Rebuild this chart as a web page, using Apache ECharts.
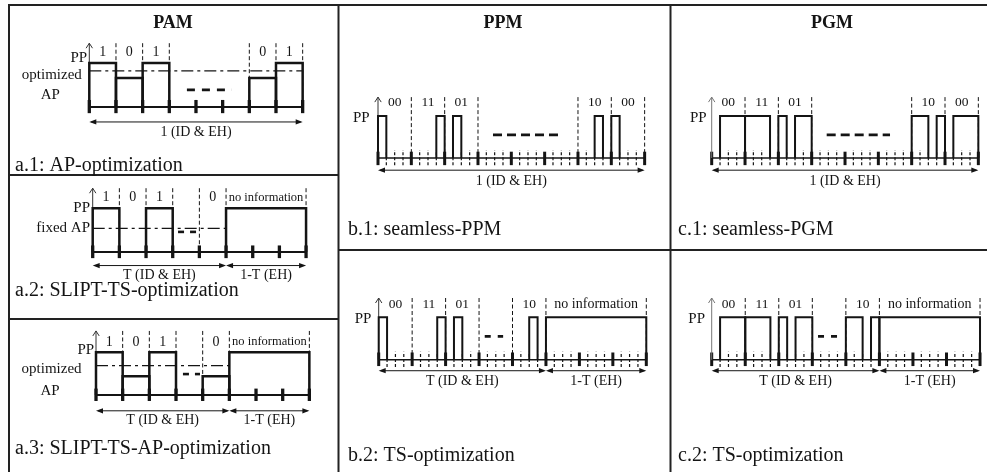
<!DOCTYPE html>
<html><head><meta charset="utf-8">
<script src="https://cdn.jsdelivr.net/npm/echarts@6/dist/echarts.min.js"></script>
<style>html,body{margin:0;padding:0;background:#fff}#c{width:987px;height:472px}</style>
</head><body><div id="c"></div>
<script>
// ================= DATA =================
const slotCount = 8;
const noInfoText = 'no information';

// ---- PAM a.1 : AP-optimization ----
const a1Bits    = ['1','0','1','','','','0','1'];
const a1Pulses  = [[0,1,1],[1,2,0.66],[2,3,1],[6,7,0.66],[7,8,1]];   // [start slot, end slot, amplitude]
const a1Ref     = [0, 8, 0.82];                                       // optimized AP level
const a1Dots    = [3.66, 5.35, 0.39];                                 // ellipsis
const a1Bounds  = [1,2,3,6,7,8];
const a1Spans   = [[0,8,'1 (ID & EH)']];
const a1NoInfo  = null;

// ---- PAM a.2 : SLIPT-TS-optimization ----
const a2Bits    = ['1','0','1','','0'];
const a2Pulses  = [[0,1,1],[2,3,1],[5,8,1]];
const a2Ref     = [0, 5, 0.54];                                       // fixed AP level
const a2Dots    = [3.2, 3.9, 0.46];
const a2Bounds  = [1,2,3,4,5,8];
const a2Spans   = [[0,5,'T (ID & EH)'],[5,8,'1-T (EH)']];
const a2NoInfo  = [5, 8];

// ---- PAM a.3 : SLIPT-TS-AP-optimization ----
const a3Bits    = ['1','0','1','','0'];
const a3Pulses  = [[0,1,1],[1,2,0.44],[2,3,1],[4,5,0.44],[5,8,1]];
const a3Ref     = [0, 5, 0.69];
const a3Dots    = [3.26, 3.9, 0.49];
const a3Bounds  = [1,2,3,4,5,8];
const a3Spans   = [[0,5,'T (ID & EH)'],[5,8,'1-T (EH)']];
const a3NoInfo  = [5, 8];

// ---- PPM b.1 : seamless-PPM ----
const b1Bits    = ['00','11','01','','','','10','00'];
const b1Pulses  = [[0,0.25,1],[1.75,2,1],[2.25,2.5,1],[6.5,6.75,1],[7,7.25,1]];
const b1Dots    = [3.45, 5.4, 0.55];
const b1Bounds  = [1,2,3,6,7,8];
const b1Spans   = [[0,8,'1 (ID & EH)']];
const b1NoInfo  = null;

// ---- PGM c.1 : seamless-PGM ----
const c1Bits    = ['00','11','01','','','','10','00'];
const c1Pulses  = [[0.25,1,1],[1,1.75,1],[2,2.25,1],[2.5,3,1],[6,6.5,1],[6.75,7,1],[7.25,8,1]];
const c1Dots    = [3.45, 5.35, 0.55];
const c1Bounds  = [1,2,3,6,7,8];
const c1Spans   = [[0,8,'1 (ID & EH)']];
const c1NoInfo  = null;

// ---- PPM b.2 : TS-optimization ----
const b2Bits    = ['00','11','01','','10'];
const b2Pulses  = [[0,0.25,1],[1.75,2,1],[2.25,2.5,1],[4.5,4.75,1],[5,8,1]];
const b2Dots    = [3.17, 3.72, 0.55];
const b2Bounds  = [1,2,3,4,5,8];
const b2Spans   = [[0,5,'T (ID & EH)'],[5,8,'1-T (EH)']];
const b2NoInfo  = [5, 8];

// ---- PGM c.2 : TS-optimization ----
const c2Bits    = ['00','11','01','','10'];
const c2Pulses  = [[0.25,1,1],[1,1.75,1],[2,2.25,1],[2.5,3,1],[4,4.5,1],[4.75,5,1],[5,8,1]];
const c2Dots    = [3.17, 3.88, 0.55];
const c2Bounds  = [1,2,3,4,5,8];
const c2Spans   = [[0,5,'T (ID & EH)'],[5,8,'1-T (EH)']];
const c2NoInfo  = [5, 8];

// ================= LAYOUT / STYLE =================
const SERIF = '"Liberation Serif","Times New Roman",serif';
const INK = '#141414';

const pamLay = {sub:false, pulseW:2.5, baseW:2, tickW:3.3, bitFont:14, infoFont:12.5, dash:[8,7]};
const ppmLay = {sub:true,  pulseW:2,   baseW:1.6, tickW:3, bitFont:13.5, infoFont:14, dash:[9,5]};

const panels = [
  Object.assign({}, pamLay, {left:89.3, w:26.67, base:107, pp:63,
    bits:a1Bits, pulses:a1Pulses, ref:a1Ref, dots:a1Dots, bounds:a1Bounds, spans:a1Spans, noInfo:a1NoInfo,
    top:1.45, lab:1.24, tUp:0.16, tDn:-0.14, arr:-0.34, arrLab:-0.57, axisCol:'#333',
    side:[[-0.08,1.11,'PP','right'],[-0.28,0.73,'optimized','right'],[-1.46,0.28,'AP','center']]}),
  Object.assign({}, pamLay, {left:92.7, w:26.67, base:252, pp:208.3, dash:[6,6],
    bits:a2Bits, pulses:a2Pulses, ref:a2Ref, dots:a2Dots, bounds:a2Bounds, spans:a2Spans, noInfo:a2NoInfo,
    top:1.46, lab:1.24, tUp:0.15, tDn:-0.14, arr:-0.31, arrLab:-0.53, axisCol:'#333',
    side:[[-0.1,1.0,'PP','right'],[-0.1,0.54,'fixed AP','right']]}),
  Object.assign({}, pamLay, {left:96, w:26.67, base:395, pp:352.3, dash:[6,6],
    bits:a3Bits, pulses:a3Pulses, ref:a3Ref, dots:a3Dots, bounds:a3Bounds, spans:a3Spans, noInfo:a3NoInfo,
    top:1.5, lab:1.24, tUp:0.15, tDn:-0.14, arr:-0.37, arrLab:-0.59, axisCol:'#333',
    side:[[-0.07,1.05,'PP','right'],[-0.54,0.6,'optimized','right'],[-1.72,0.1,'AP','center']]}),
  Object.assign({}, ppmLay, {left:378, w:33.33, base:158, pp:116,
    bits:b1Bits, pulses:b1Pulses, ref:null, dots:b1Dots, bounds:b1Bounds, spans:b1Spans, noInfo:b1NoInfo,
    top:1.45, lab:1.32, tUp:0.15, tDn:-0.17, sUp:0.19, sDn:-0.17, arr:-0.29, arrLab:-0.56, axisCol:'#333',
    side:[[-0.25,0.96,'PP','right']]}),
  Object.assign({}, ppmLay, {left:711.7, w:33.33, base:158, pp:116,
    bits:c1Bits, pulses:c1Pulses, ref:null, dots:c1Dots, bounds:c1Bounds, spans:c1Spans, noInfo:c1NoInfo,
    top:1.45, lab:1.32, tUp:0.15, tDn:-0.17, sUp:0.19, sDn:-0.17, arr:-0.29, arrLab:-0.56, axisCol:'#777',
    side:[[-0.15,0.96,'PP','right']]}),
  Object.assign({}, ppmLay, {left:378.7, w:33.45, base:359.7, pp:317.3, dash:[6,7],
    bits:b2Bits, pulses:b2Pulses, ref:null, dots:b2Dots, bounds:b2Bounds, spans:b2Spans, noInfo:b2NoInfo,
    top:1.455, lab:1.31, tUp:0.17, tDn:-0.15, sUp:0.19, sDn:-0.17, arr:-0.26, arrLab:-0.51, axisCol:'#333',
    side:[[-0.22,0.96,'PP','right']]}),
  Object.assign({}, ppmLay, {left:711.7, w:33.54, base:359.7, pp:317.3, dash:[6,7],
    bits:c2Bits, pulses:c2Pulses, ref:null, dots:c2Dots, bounds:c2Bounds, spans:c2Spans, noInfo:c2NoInfo,
    top:1.455, lab:1.31, tUp:0.17, tDn:-0.15, sUp:0.19, sDn:-0.17, arr:-0.26, arrLab:-0.51, axisCol:'#777',
    side:[[-0.2,0.96,'PP','right']]})
];

// ================= SERIES BUILDERS =================
function base(gi, z) {
  return {type:'custom', coordinateSystem:'cartesian2d', xAxisIndex:gi, yAxisIndex:gi, silent:true, z:z||2};
}
function segSeries(gi, data, style, z) {
  return Object.assign(base(gi, z), {
    data: data,
    renderItem: function (p, api) {
      const a = api.coord([api.value(0), api.value(1)]);
      const b = api.coord([api.value(2), api.value(3)]);
      return {type:'line', shape:{x1:a[0], y1:a[1], x2:b[0], y2:b[1]}, style: Object.assign({fill:null}, style)};
    }
  });
}
function pulseSeries(gi, data, width) {
  return Object.assign(base(gi, 4), {
    data: data,
    renderItem: function (p, api) {
      const x0 = api.value(0), x1 = api.value(1), h = api.value(2);
      const pts = [api.coord([x0,0]), api.coord([x0,h]), api.coord([x1,h]), api.coord([x1,0])];
      return {type:'polyline', shape:{points:pts}, style:{stroke:INK, lineWidth:width, fill:null, lineJoin:'miter'}};
    }
  });
}
function textSeries(gi, items, font) {
  return Object.assign(base(gi, 6), {
    data: items.map(function (it) { return [it[0], it[1]]; }),
    renderItem: function (p, api) {
      const it = items[p.dataIndex];
      const c = api.coord([api.value(0), api.value(1)]);
      return {type:'text', x:c[0], y:c[1],
        style:{text:it[2], font:font, fill:INK, align:it[3] || 'center', verticalAlign:'middle'}};
    }
  });
}
function spanSeries(gi, data, yv) {
  return Object.assign(base(gi, 5), {
    data: data.map(function (s) { return [s[0], s[1], yv]; }),
    renderItem: function (p, api) {
      const a = api.coord([api.value(0), api.value(2)]);
      const b = api.coord([api.value(1), api.value(2)]);
      const L = 7, H = 2.6;
      return {type:'group', children:[
        {type:'line', shape:{x1:a[0]+2, y1:a[1], x2:b[0]-2, y2:b[1]}, style:{stroke:INK, lineWidth:1}},
        {type:'polygon', shape:{points:[[a[0],a[1]],[a[0]+L,a[1]-H],[a[0]+L,a[1]+H]]}, style:{fill:INK}},
        {type:'polygon', shape:{points:[[b[0],b[1]],[b[0]-L,b[1]-H],[b[0]-L,b[1]+H]]}, style:{fill:INK}}
      ]};
    }
  });
}
function axisSeries(gi, top, col) {
  return Object.assign(base(gi, 3), {
    data: [[0, 0, top]],
    renderItem: function (p, api) {
      const a = api.coord([api.value(0), api.value(1)]);
      const b = api.coord([api.value(0), api.value(2)]);
      return {type:'group', children:[
        {type:'line', shape:{x1:a[0], y1:a[1], x2:b[0], y2:b[1]}, style:{stroke:col, lineWidth:1}},
        {type:'polyline', shape:{points:[[b[0]-3.2,b[1]+5],[b[0],b[1]],[b[0]+3.2,b[1]+5]]}, style:{stroke:col, lineWidth:1, fill:null}}
      ]};
    }
  });
}

const grids = [], xAxes = [], yAxes = [], series = [];
panels.forEach(function (P, gi) {
  grids.push({left:P.left, top:P.pp, width:P.w*slotCount, height:P.base-P.pp});
  xAxes.push({type:'value', gridIndex:gi, min:0, max:slotCount, show:false});
  yAxes.push({type:'value', gridIndex:gi, min:0, max:1, show:false});

  // dashed slot boundaries
  series.push(segSeries(gi, P.bounds.map(function (b) { return [b, P.top, b, 0]; }),
    {stroke:INK, lineWidth:1, lineDash:[4,2.5]}, 2));
  // sub-slot dashed ticks (PPM / PGM)
  if (P.sub) {
    const subs = [];
    for (let i = 0; i < slotCount; i++) for (let k = 1; k < 4; k++) subs.push([i + k/4, P.sDn, i + k/4, P.sUp]);
    series.push(segSeries(gi, subs, {stroke:INK, lineWidth:1.2, lineDash:[3,2]}, 2));
  }
  // baseline
  series.push(segSeries(gi, [[0, 0, slotCount, 0]], {stroke:INK, lineWidth:P.baseW}, 3));
  // thick slot ticks
  const ticks = [];
  for (let i = 0; i <= slotCount; i++) ticks.push([i, P.tDn, i, P.tUp]);
  series.push(segSeries(gi, ticks, {stroke:INK, lineWidth:P.tickW}, 3));
  // amplitude reference (dash-dot)
  if (P.ref) series.push(segSeries(gi, [[P.ref[0], P.ref[2], P.ref[1], P.ref[2]]],
    {stroke:INK, lineWidth:1.2, lineDash:[12,4,3,4]}, 3));
  // ellipsis
  series.push(segSeries(gi, [[P.dots[0], P.dots[2], P.dots[1], P.dots[2]]],
    {stroke:INK, lineWidth:2.6, lineDash:P.dash}, 3));
  // y axis arrow
  series.push(axisSeries(gi, P.top, P.axisCol));
  // pulses
  series.push(pulseSeries(gi, P.pulses, P.pulseW));
  // bit labels
  const bitItems = [];
  P.bits.forEach(function (b, i) { if (b) bitItems.push([i + 0.5, P.lab, b]); });
  series.push(textSeries(gi, bitItems, P.bitFont + 'px ' + SERIF));
  if (P.noInfo) series.push(textSeries(gi, [[(P.noInfo[0] + P.noInfo[1]) / 2, P.lab, noInfoText]], P.infoFont + 'px ' + SERIF));
  // span arrows
  series.push(spanSeries(gi, P.spans, P.arr));
  series.push(textSeries(gi, P.spans.map(function (s) { return [(s[0] + s[1]) / 2, P.arrLab, s[2]]; }), '14px ' + SERIF));
  // side labels
  series.push(textSeries(gi, P.side, '15px ' + SERIF));
});

// ================= FRAME & TITLES =================
function hl(x1, y, x2) { return {type:'line', shape:{x1:x1, y1:y, x2:x2, y2:y}, style:{stroke:'#222', lineWidth:2}}; }
function vl(x, y1, y2) { return {type:'line', shape:{x1:x, y1:y1, x2:x, y2:y2}, style:{stroke:'#222', lineWidth:2}}; }
function tx(x, y, t, size, weight, align) {
  return {type:'text', x:x, y:y, style:{text:t, font:(weight||'normal') + ' ' + size + 'px ' + SERIF, fill:INK,
    align:align || 'center', verticalAlign:'middle'}};
}
const graphic = [
  hl(8, 5, 987), vl(9, 4, 472), vl(338.5, 4, 472), vl(670.5, 4, 472),
  hl(8, 175, 338), hl(8, 319, 338), hl(338, 250, 987),
  tx(173, 23, 'PAM', 18, 'bold'), tx(503, 23, 'PPM', 18, 'bold'), tx(832, 23, 'PGM', 18, 'bold'),
  tx(15, 166, 'a.1: AP-optimization', 20, 'normal', 'left'),
  tx(15, 291, 'a.2: SLIPT-TS-optimization', 20, 'normal', 'left'),
  tx(15, 449, 'a.3: SLIPT-TS-AP-optimization', 20, 'normal', 'left'),
  tx(348, 230, 'b.1: seamless-PPM', 20, 'normal', 'left'),
  tx(678, 230, 'c.1: seamless-PGM', 20, 'normal', 'left'),
  tx(348, 456, 'b.2: TS-optimization', 20, 'normal', 'left'),
  tx(678, 456, 'c.2: TS-optimization', 20, 'normal', 'left')
];

const chart = echarts.init(document.getElementById('c'), null, {renderer:'canvas'});
chart.setOption({
  animation:false, backgroundColor:'#fff',
  grid:grids, xAxis:xAxes, yAxis:yAxes, series:series, graphic:graphic
});
</script></body></html>
